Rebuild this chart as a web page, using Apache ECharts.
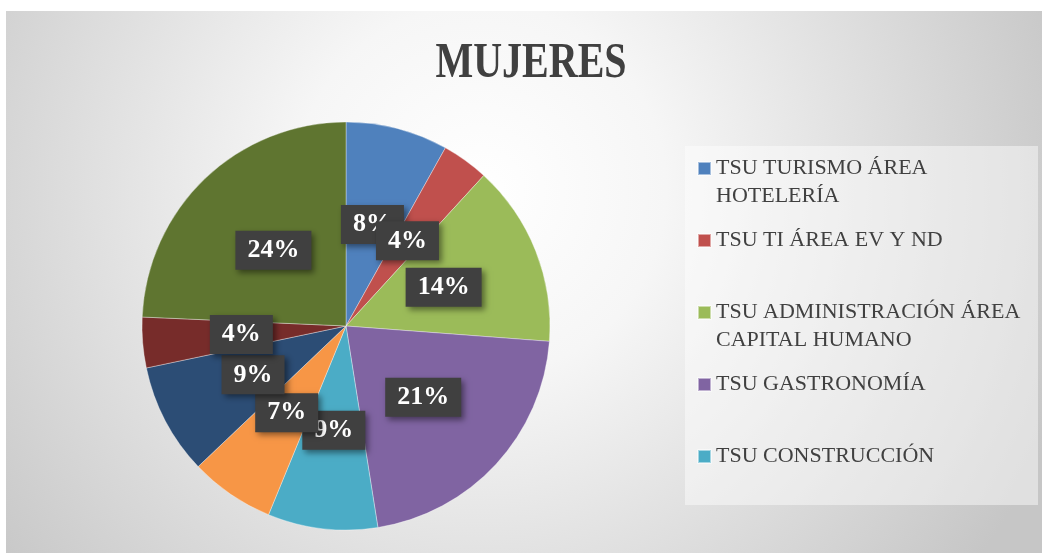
<!DOCTYPE html>
<html><head><meta charset="utf-8">
<script src="https://cdn.jsdelivr.net/npm/echarts@6/dist/echarts.min.js"></script>
<style>html,body{margin:0;padding:0;background:#fff}#c{width:1042px;height:553px}</style>
</head><body><div id="c"></div>
<script>
const chartTitle = 'MUJERES';
const categories = [
  'TSU TURISMO ÁREA HOTELERÍA',
  'TSU TI ÁREA EV Y ND',
  'TSU ADMINISTRACIÓN ÁREA CAPITAL HUMANO',
  'TSU GASTRONOMÍA',
  'TSU CONSTRUCCIÓN',
  'TSU MANTENIMIENTO ÁREA INDUSTRIAL',
  'TSU DESARROLLO DE NEGOCIOS',
  'TSU ENERGÍAS RENOVABLES',
  'TSU TURISMO ÁREA DESARROLLO DE PRODUCTOS ALTERNATIVOS'
];
const values = [8.1, 3.7, 14.4, 21.3, 8.7, 6.7, 8.8, 4.0, 24.3];
const colors = ['#4f81bd','#c0504d','#9bbb59','#8064a2','#4bacc6','#f79646','#2c4d75','#772c2a','#5f7530'];
const legendNames = categories.slice(0, 5);
const legendLabels = [
  ' \nTSU TURISMO ÁREA\nHOTELERÍA',
  ' \nTSU TI ÁREA EV Y ND\n ',
  ' \nTSU ADMINISTRACIÓN ÁREA\nCAPITAL HUMANO',
  ' \nTSU GASTRONOMÍA\n ',
  ' \nTSU CONSTRUCCIÓN\n '
];

const chart = echarts.init(document.getElementById('c'), null, {renderer: 'canvas'});
chart.setOption({
  animation: false,
  color: colors,
  graphic: [
    {type: 'rect', z: -10, silent: true,
     shape: {x: 6, y: 11, width: 1036, height: 542},
     style: {fill: {type: 'radial', x: 480, y: 190, r: 620, global: true,
       colorStops: [{offset: 0, color: '#ffffff'}, {offset: 0.3, color: '#f6f6f6'},
                    {offset: 0.65, color: '#dedede'}, {offset: 1, color: '#c6c6c6'}]}}},
    {type: 'rect', z: -5, silent: true,
     shape: {x: 685, y: 146, width: 353, height: 359},
     style: {fill: 'rgba(255,255,255,0.45)'}},
    {type: 'text', z: 10, x: 531, y: 64, scaleX: 0.8, silent: true,
     style: {text: chartTitle, font: 'bold 50px "Liberation Serif"', fill: '#404040',
             align: 'center', verticalAlign: 'middle'}}
  ],
  legend: {
    data: legendNames,
    orient: 'vertical',
    left: 697, top: 126.5,
    padding: 0,
    itemWidth: 13, itemHeight: 13, itemGap: -12,
    icon: 'rect',
    formatter: name => legendLabels[legendNames.indexOf(name)],
    textStyle: {fontFamily: 'Liberation Serif', fontSize: 22, color: '#404040', lineHeight: 28}
  },
  series: [{
    type: 'pie',
    center: [346, 326],
    radius: 204,
    startAngle: 90,
    clockwise: true,
    silent: true,
    avoidLabelOverlap: false,
    labelLayout: {hideOverlap: false},
    data: categories.map((n, i) => ({name: n, value: values[i]})),
    itemStyle: {borderColor: 'rgba(255,255,255,0.5)', borderWidth: 0.7},
    label: {
      position: 'inside',
      formatter: p => Math.round(p.percent) + '%',
      fontFamily: 'Liberation Serif', fontWeight: 'bold', fontSize: 26,
      color: '#ffffff', lineHeight: 26,
      backgroundColor: '#404040', padding: [7, 12, 6, 12],
      shadowColor: 'rgba(0,0,0,0.45)', shadowBlur: 6, shadowOffsetX: 3, shadowOffsetY: 3
    },
    labelLine: {show: false}
  }]
});
</script></body></html>
